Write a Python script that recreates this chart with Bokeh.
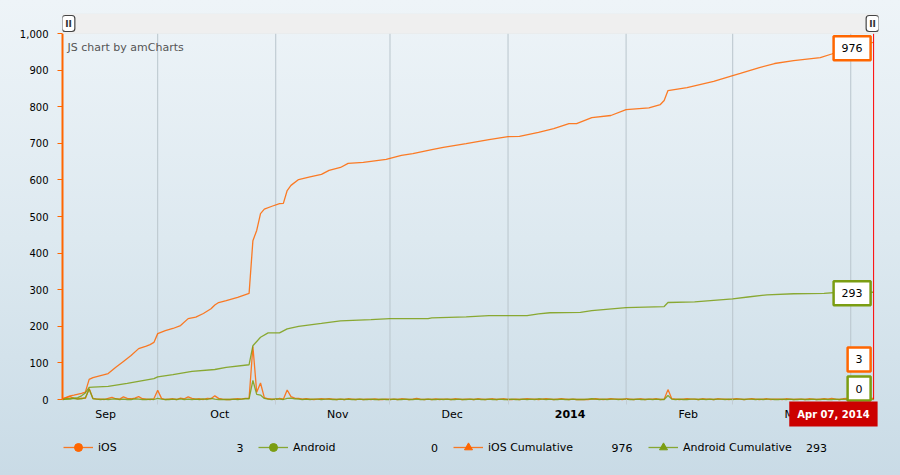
import numpy as np
import pandas as pd
from bokeh.plotting import figure
from bokeh.models import (Range1d, FixedTicker, NumeralTickFormatter, Legend, LegendItem,
                          Label, BoxAnnotation, ColumnDataSource)
from bokeh.embed import file_html
from bokeh.resources import INLINE

# ---------------- data ----------------
START_DATE = "2013-09-06"          # first day of the daily series
LAST_DATE = "2014-04-07"           # cursor date

IOS_DAILY = [
    2, 5, 8, 3, 2, 4, 3, 30, 3, 1,
    1, 0, 3, 6, 2, 1, 7, 3, 2, 4,
    8, 2, 1, 0, 2, 25, 3, 0, 1, 2,
    0, 4, 2, 7, 3, 1, 2, 0, 3, 2,
    10, 3, 1, 0, 0, 1, 2, 1, 3, 3,
    145, 20, 45, 5, 2, 1, 0, 3, 1, 26,
    8, 4, 3, 1, 2, 1, 0, 1, 2, 1,
    2, 1, 0, 1, 0, 2, 1, 0, 1, 0,
    1, 0, 2, 0, 0, 1, 0, 1, 0, 2,
    1, 0, 1, 3, 1, 0, 1, 0, 2, 0,
    1, 1, 0, 2, 1, 0, 1, 1, 0, 2,
    1, 0, 1, 2, 0, 1, 2, 0, 0, 1,
    0, 1, 2, 1, 1, 0, 1, 2, 1, 0,
    1, 2, 1, 0, 1, 0, 0, 0, 0, 1,
    2, 1, 0, 1, 2, 1, 1, 0, 2, 1,
    0, 1, 2, 0, 1, 1, 2, 0, 1, 27,
    2, 1, 0, 1, 2, 1, 1, 0, 2, 1,
    1, 0, 2, 1, 1, 0, 1, 2, 1, 0,
    1, 2, 1, 0, 1, 2, 0, 1, 1, 0,
    2, 1, 0, 1, 1, 0, 2, 1, 0, 1,
    2, 1, 3, 1, 0, 2, 3, 1, 2, 1,
    2, 1, 4, 3,
]
ANDROID_DAILY = [
    0, 2, 1, 3, 1, 2, 5, 28, 2, 1,
    0, 1, 0, 1, 2, 0, 1, 0, 0, 2,
    1, 0, 0, 1, 0, 3, 1, 0, 0, 1,
    0, 2, 0, 1, 0, 1, 0, 2, 0, 3,
    1, 0, 0, 0, 0, 1, 0, 1, 2, 2,
    52, 14, 12, 3, 1, 0, 2, 1, 0, 3,
    4, 2, 1, 0, 1, 0, 1, 1, 0, 1,
    1, 0, 0, 1, 0, 1, 0, 0, 1, 0,
    0, 1, 0, 0, 1, 0, 0, 1, 0, 0,
    1, 0, 0, 1, 0, 0, 1, 0, 0, 1,
    0, 1, 0, 0, 1, 0, 0, 1, 0, 1,
    0, 0, 1, 0, 0, 1, 0, 0, 1, 0,
    0, 1, 0, 1, 0, 2, 1, 0, 1, 0,
    0, 1, 0, 0, 1, 0, 0, 0, 1, 2,
    1, 0, 1, 0, 1, 1, 0, 1, 1, 0,
    0, 1, 0, 0, 1, 0, 1, 0, 0, 11,
    1, 0, 1, 0, 0, 1, 1, 0, 1, 0,
    1, 0, 1, 1, 0, 1, 0, 1, 1, 0,
    1, 1, 0, 1, 0, 1, 1, 0, 0, 1,
    0, 1, 0, 0, 1, 0, 0, 1, 0, 0,
    1, 0, 0, 1, 0, 1, 0, 0, 1, 0,
    1, 0, 1, 0,
]

IOS_CUM_DAY = [0, 2, 3, 5, 6, 7, 8, 12, 14, 16, 18, 20, 22, 23, 24, 25, 27, 29, 31, 33,
               35, 37, 39, 40, 41, 43, 46, 49, 50, 51, 52, 53, 55, 57, 58, 59, 60, 62, 65, 68,
               70, 73, 75, 79, 85, 89, 92, 97, 100, 106, 112, 117, 120, 125, 129, 133, 135, 139,
               144, 148, 154, 157, 158, 159, 164, 171, 176, 178, 183, 187, 192, 199, 202, 207, 213]
IOS_CUM = [2, 10, 12, 17, 20, 55, 60, 71, 88, 104, 120, 139, 146, 150, 156, 180, 188, 194, 202, 221,
           225, 235, 248, 258, 265, 270, 279, 290, 434, 462, 508, 520, 528, 535, 536, 571, 585, 601, 608, 615,
           626, 634, 645, 648, 656, 667, 672, 683, 689, 699, 710, 718, 719, 730, 740, 754, 754, 770,
           776, 792, 797, 806, 817, 844, 852, 869, 885, 891, 907, 918, 926, 934, 944, 967, 976]

ANDROID_CUM_DAY = [0, 4, 5, 6, 7, 8, 12, 17, 24, 25, 29, 34, 40, 43, 49, 50, 52, 54, 57, 59,
                   62, 68, 73, 81, 86, 96, 97, 106, 112, 122, 125, 128, 136, 139, 148, 158, 159,
                   166, 176, 180, 185, 192, 200, 204, 213]
ANDROID_CUM = [0, 5, 10, 18, 33, 34, 36, 44, 57, 62, 68, 77, 82, 88, 95, 147, 170, 182, 182, 193,
               200, 208, 215, 218, 221, 221, 223, 226, 229, 229, 234, 237, 238, 243, 251, 254, 265,
               267, 275, 280, 286, 289, 290, 293, 293]

MONTH_STARTS = ["2013-09-01", "2013-10-01", "2013-11-01", "2013-12-01",
                "2014-01-01", "2014-02-01", "2014-03-01", "2014-04-01"]
MONTH_LABELS = ["Sep", "Oct", "Nov", "Dec", "2014", "Feb", "Mar", "Apr"]
Y_TICKS = [0, 100, 200, 300, 400, 500, 600, 700, 800, 900, 1000]
Y_MAX = 1000

SERIES_NAMES = ["iOS", "Android", "iOS Cumulative", "Android Cumulative"]
LAST_VALUES = [IOS_DAILY[-1], ANDROID_DAILY[-1], IOS_CUM[-1], ANDROID_CUM[-1]]

# ---------------- style / layout ----------------
ORANGE = "#FF6600"
GREEN = "#7B9D12"
FONT = "DejaVu Sans"
W, H = 900, 475
LEFT, RIGHT, TOP = 62, 22, 13
FRAME_W = W - LEFT - RIGHT          # 816
FRAME_H = H - TOP                   # 462
PX_PER_UNIT = 0.366                 # vertical pixels per value unit
PX_PER_DAY = 3.808
ZERO_FROM_BOTTOM = 76               # pixels between value 0 and the figure bottom
Y_START = -ZERO_FROM_BOTTOM / PX_PER_UNIT
Y_END = Y_START + FRAME_H / PX_PER_UNIT

start = pd.Timestamp(START_DATE)
last = pd.Timestamp(LAST_DATE)


def ms(ts):
    return int(ts.value // 10**6)


def days_to_dt(days):
    return start + pd.to_timedelta(np.asarray(days, dtype=float), unit="D")


daily_dates = days_to_dt(np.arange(len(IOS_DAILY)))
x_start = start
x_end = start + pd.Timedelta(days=FRAME_W / PX_PER_DAY)

month_ts = [pd.Timestamp(m) for m in MONTH_STARTS]
label_ts = [m + pd.Timedelta(hours=16.3 * 24) for m in month_ts]
label_ms = [ms(t) for t in label_ts]
month_ms = [ms(t) for t in month_ts]

p = figure(width=W, height=H, x_axis_type="datetime", output_backend="svg",
           toolbar_location=None,
           x_range=Range1d(x_start, x_end), y_range=Range1d(Y_START, Y_END),
           min_border_left=LEFT, min_border_right=RIGHT, min_border_top=TOP, min_border_bottom=0,
           background_fill_alpha=0, border_fill_alpha=0, outline_line_color=None,
           styles={"background": "linear-gradient(to bottom, #eef4f8 0%, #dde9f0 50%, #c9dbe6 100%)"})
p.extra_x_ranges = {"fx": Range1d(0, FRAME_W)}
p.extra_y_ranges = {"fy": Range1d(0, FRAME_H)}

# grid: vertical lines at month starts, only over the value area
p.ygrid.visible = False
p.xgrid.visible = False
p.segment(x0=month_ts, y0=[0] * len(month_ts), x1=month_ts, y1=[Y_MAX] * len(month_ts),
          line_color="#b9c5cc", line_width=1)

# y axis
ya = p.yaxis[0]
ya.ticker = FixedTicker(ticks=Y_TICKS)
ya.formatter = NumeralTickFormatter(format="0,0")
ya.bounds = (0, Y_MAX)
ya.axis_line_color = ORANGE
ya.axis_line_width = 2
ya.major_tick_line_color = ORANGE
ya.major_tick_out = 5
ya.major_tick_in = 0
ya.minor_tick_line_color = None
ya.major_label_text_font = FONT
ya.major_label_text_font_size = "10px"
ya.major_label_text_color = "#000000"
ya.major_label_standoff = 9

# x axis, drawn at value 0
xa = p.xaxis[0]
xa.fixed_location = 0
xa.ticker = FixedTicker(ticks=label_ms, minor_ticks=month_ms)
xa.major_label_overrides = {t: (lab if lab != "2014" else "") for t, lab in zip(label_ms, MONTH_LABELS)}
xa.axis_line_color = None
xa.major_tick_line_color = None
xa.major_tick_out = 0
xa.minor_tick_line_color = "#c3cdd3"
xa.minor_tick_out = 5
xa.minor_tick_in = 0
xa.major_label_text_font = FONT
xa.major_label_text_font_size = "11px"
xa.major_label_text_color = "#000000"
xa.major_label_standoff = 3

# series
src_daily = ColumnDataSource(dict(x=daily_dates, ios=IOS_DAILY, android=ANDROID_DAILY))
src_ios_cum = ColumnDataSource(dict(x=days_to_dt(IOS_CUM_DAY), y=IOS_CUM))
src_and_cum = ColumnDataSource(dict(x=days_to_dt(ANDROID_CUM_DAY), y=ANDROID_CUM))

r_ios = p.line("x", "ios", source=src_daily, line_color=ORANGE, line_width=1.3, line_alpha=0.85)
r_and = p.line("x", "android", source=src_daily, line_color=GREEN, line_width=1.3, line_alpha=0.85)
r_ios_c = p.line("x", "y", source=src_ios_cum, line_color=ORANGE, line_width=1.3, line_alpha=0.85)
r_and_c = p.line("x", "y", source=src_and_cum, line_color=GREEN, line_width=1.3, line_alpha=0.85)

# zero-size bullets: invisible on the lines, they only give the legend its markers
m_ios = p.scatter("x", "ios", source=src_daily, size=0, marker="circle",
                  fill_color=ORANGE, line_color=ORANGE)
m_and = p.scatter("x", "android", source=src_daily, size=0, marker="circle",
                  fill_color=GREEN, line_color=GREEN)
m_ios_c = p.scatter("x", "y", source=src_ios_cum, size=0, marker="triangle",
                    fill_color=ORANGE, line_color=ORANGE)
m_and_c = p.scatter("x", "y", source=src_and_cum, size=0, marker="triangle",
                    fill_color=GREEN, line_color=GREEN)

legend = Legend(items=[
    LegendItem(label=SERIES_NAMES[0], renderers=[r_ios, m_ios]),
    LegendItem(label=SERIES_NAMES[1], renderers=[r_and, m_and]),
    LegendItem(label=SERIES_NAMES[2], renderers=[r_ios_c, m_ios_c]),
    LegendItem(label=SERIES_NAMES[3], renderers=[r_and_c, m_and_c]),
], orientation="horizontal", location=(1, 18),
    glyph_width=30, glyph_height=20, label_height=20, label_standoff=5,
    label_width=140, spacing=20, padding=0, margin=0,
    background_fill_alpha=0, border_line_color=None,
    label_text_font=FONT, label_text_font_size="11px", label_text_color="#000000")
p.add_layout(legend)

# legend values
for i, v in enumerate(LAST_VALUES):
    p.add_layout(Label(x=181 + 194.5 * i, y=28, x_range_name="fx", y_range_name="fy",
                       text=str(v), text_align="right", text_baseline="middle",
                       text_font=FONT, text_font_size="11px", text_color="#000000"))

# bold year label on the x axis
p.add_layout(Label(x=label_ms[4], y=62, y_range_name="fy", text="2014",
                   text_align="center", text_baseline="middle", text_font=FONT,
                   text_font_size="11px", text_font_style="bold", text_color="#000000"))

# credit text
p.add_layout(Label(x=5, y=428, x_range_name="fx", y_range_name="fy", text="JS chart by amCharts",
                   text_align="left", text_baseline="middle", text_font=FONT,
                   text_font_size="11px", text_color="#555555"))

# cursor line
last_ms = ms(last)
p.segment(x0=[last], y0=[0], x1=[last], y1=[Y_MAX], line_color="#ff0000", line_width=1)

# scrollbar band
p.add_layout(BoxAnnotation(bottom=Y_MAX, fill_color="#efefef", fill_alpha=1,
                           line_color="#e0e0e0", line_width=1))
for gx in (6, FRAME_W - 6):
    p.add_layout(Label(x=gx, y=452, x_range_name="fx", y_range_name="fy", text="II",
                       text_align="center", text_baseline="middle", text_font=FONT,
                       text_font_size="9px", text_font_style="bold", text_color="#333333",
                       background_fill_color="white", background_fill_alpha=1,
                       border_line_color="#444444", border_line_width=1.2, border_radius=3,
                       padding=3))


def balloon(text, yv, color, yo):
    return Label(x=last_ms, y=yv, x_offset=-3, y_offset=yo, text=text,
                 text_align="right", text_baseline="middle", text_font=FONT,
                 text_font_size="11px", text_color="#000000",
                 background_fill_color="white", background_fill_alpha=1,
                 border_line_color=color, border_line_width=2.5, padding=8)


p.add_layout(balloon(str(IOS_CUM[-1]), IOS_CUM[-1], ORANGE, -6))
p.add_layout(balloon(str(ANDROID_CUM[-1]), ANDROID_CUM[-1], GREEN, -1))
p.add_layout(balloon(str(IOS_DAILY[-1]), IOS_DAILY[-1], ORANGE, 39))
p.add_layout(balloon(str(ANDROID_DAILY[-1]), ANDROID_DAILY[-1], GREEN, 11))

p.add_layout(Label(x=last_ms, y=0, x_offset=4, y_offset=-14.5, text=last.strftime("%b %d, %Y"),
                   text_align="right", text_baseline="middle", text_font=FONT,
                   text_font_size="10px", text_font_style="bold", text_color="#ffffff",
                   background_fill_color="#cc0000", background_fill_alpha=1,
                   padding=dict(left=8, right=8, top=7, bottom=7)))

open("out.html", "w").write(file_html(p, INLINE))
